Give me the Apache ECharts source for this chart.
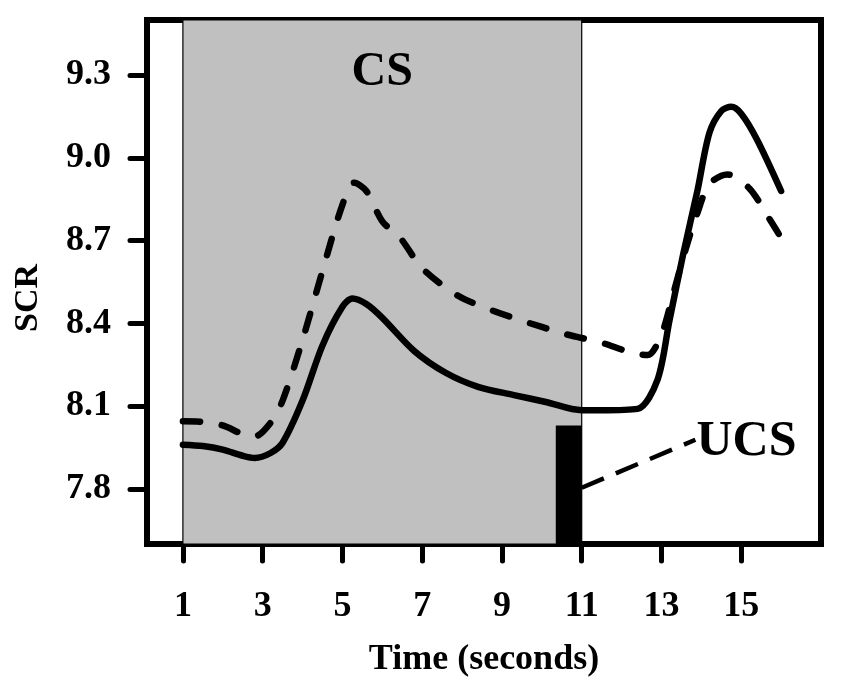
<!DOCTYPE html>
<html>
<head>
<meta charset="utf-8">
<script src="https://cdn.jsdelivr.net/npm/echarts@6/dist/echarts.min.js"></script>
<style>
html,body{margin:0;padding:0;background:#fff;}
#chart{width:848px;height:692px;}
</style>
</head>
<body>
<div id="chart"></div>
<script>
// ---- data ----
const xTicks = [1, 3, 5, 7, 9, 11, 13, 15];
const yTicks = [7.8, 8.1, 8.4, 8.7, 9.0, 9.3];

const solidT = [1, 1.5, 2, 2.5, 2.8, 3.2, 3.5, 4, 4.5, 5, 5.25, 5.6, 6, 6.8, 7.6, 8.4, 9.3, 10.1, 11, 11.5, 12.4, 12.9, 13.2, 13.55, 13.9, 14.2, 14.5, 14.75, 15.0, 15.4, 16];
const solidV = [7.96, 7.955, 7.942, 7.92, 7.912, 7.93, 7.967, 8.12, 8.32, 8.46, 8.49, 8.47, 8.42, 8.30, 8.22, 8.17, 8.14, 8.115, 8.085, 8.085, 8.09, 8.195, 8.41, 8.655, 8.88, 9.09, 9.17, 9.185, 9.16, 9.065, 8.88];

const dashT = [1, 1.5, 2, 2.5, 2.8, 3.2, 3.5, 4, 4.5, 5, 5.3, 5.6, 6, 6.45, 7, 7.9, 8.7, 9.5, 10.5, 11, 11.5, 12.2, 12.65, 13.0, 13.3, 13.6, 13.9, 14.2, 14.65, 15.2, 15.7, 16];
const dashV = [8.045, 8.043, 8.03, 7.998, 7.99, 8.04, 8.12, 8.34, 8.59, 8.83, 8.91, 8.88, 8.77, 8.71, 8.60, 8.50, 8.45, 8.41, 8.365, 8.347, 8.33, 8.296, 8.285, 8.36, 8.51, 8.666, 8.80, 8.905, 8.94, 8.89, 8.78, 8.71];

const csPeriod = [1, 11];            // CS shading (seconds)
const ucsBar = [10.35, 11, 8.03];    // UCS bar: start, end, top value
const ucsPointer = [[11, 7.804], [13.85, 7.978]];
const csLabelPos = [6.0, 9.31];
const ucsLabelPos = [15.13, 7.97];

// ---- chart ----
const font = "'Liberation Serif','Times New Roman',serif";
const chart = echarts.init(document.getElementById('chart'));
const zip = (a, b) => a.map((t, i) => [t, b[i]]);

chart.setOption({
  animation: false,
  backgroundColor: '#fff',
  grid: { left: 147, right: 27, top: 20, bottom: 148, show: true, borderColor: '#000', borderWidth: 6, backgroundColor: 'transparent' },
  xAxis: {
    type: 'value', min: 0.1, max: 17,
    name: 'Time (seconds)', nameLocation: 'middle', nameGap: 98,
    nameTextStyle: { fontFamily: font, fontWeight: 'bold', fontSize: 36, color: '#000' },
    axisLine: { show: true, onZero: false, lineStyle: { color: '#000', width: 6 } },
    axisTick: { show: true, customValues: xTicks, length: 17, lineStyle: { color: '#000', width: 5, cap: 'round' } },
    axisLabel: { customValues: xTicks, margin: 45, fontFamily: font, fontWeight: 'bold', fontSize: 36, color: '#000' },
    splitLine: { show: false }
  },
  yAxis: {
    type: 'value', min: 7.6, max: 9.5,
    axisLine: { show: true, onZero: false, lineStyle: { color: '#000', width: 6 } },
    axisTick: { show: true, customValues: yTicks, length: 17, lineStyle: { color: '#000', width: 5, cap: 'round' } },
    axisLabel: { customValues: yTicks, margin: 36, fontFamily: font, fontWeight: 'bold', fontSize: 36, color: '#000', formatter: v => v.toFixed(1) },
    splitLine: { show: false }
  },
  graphic: [
    { type: 'text', left: 11, top: 264, rotation: Math.PI / 2, style: { text: 'SCR', fontFamily: font, fontWeight: 'bold', fontSize: 34, fill: '#000' }, originX: 0, originY: 0 }
  ],
  series: [
    {
      type: 'line', name: 'shade', data: [], silent: true, z: 1,
      markArea: {
        silent: true,
        data: [
          [{ xAxis: csPeriod[0], itemStyle: { color: '#c0c0c0', borderColor: '#000', borderWidth: 1.2 } }, { xAxis: csPeriod[1] }],
          [{ coord: [ucsBar[0], 7.6], itemStyle: { color: '#000', borderWidth: 0 } }, { coord: [ucsBar[1], ucsBar[2]] }]
        ]
      },
      markLine: {
        silent: true, symbol: ['none', 'none'], label: { show: false },
        lineStyle: { color: '#000', width: 4.5, type: [24, 13] },
        data: [[{ coord: ucsPointer[0] }, { coord: ucsPointer[1] }]]
      },
      markPoint: {
        silent: true, symbol: 'rect', symbolSize: 1, itemStyle: { color: 'transparent' },
        data: [
          { coord: csLabelPos, label: { show: true, formatter: 'CS', fontFamily: font, fontWeight: 'bold', fontSize: 48, color: '#000', position: 'inside' } },
          { coord: ucsLabelPos, label: { show: true, formatter: 'UCS', fontFamily: font, fontWeight: 'bold', fontSize: 50, color: '#000', position: 'inside' } }
        ]
      }
    },
    {
      type: 'line', name: 'Solid', data: zip(solidT, solidV), smooth: 0.3,
      showSymbol: false, z: 5, clip: true,
      lineStyle: { color: '#000', width: 6.5, cap: 'round', join: 'round' }
    },
    {
      type: 'line', name: 'Dashed', data: zip(dashT, dashV), smooth: 0.3,
      showSymbol: false, z: 5, clip: true,
      lineStyle: { color: '#000', width: 6.5, type: [17, 22], cap: 'round', join: 'round' }
    }
  ]
});
</script>
</body>
</html>
